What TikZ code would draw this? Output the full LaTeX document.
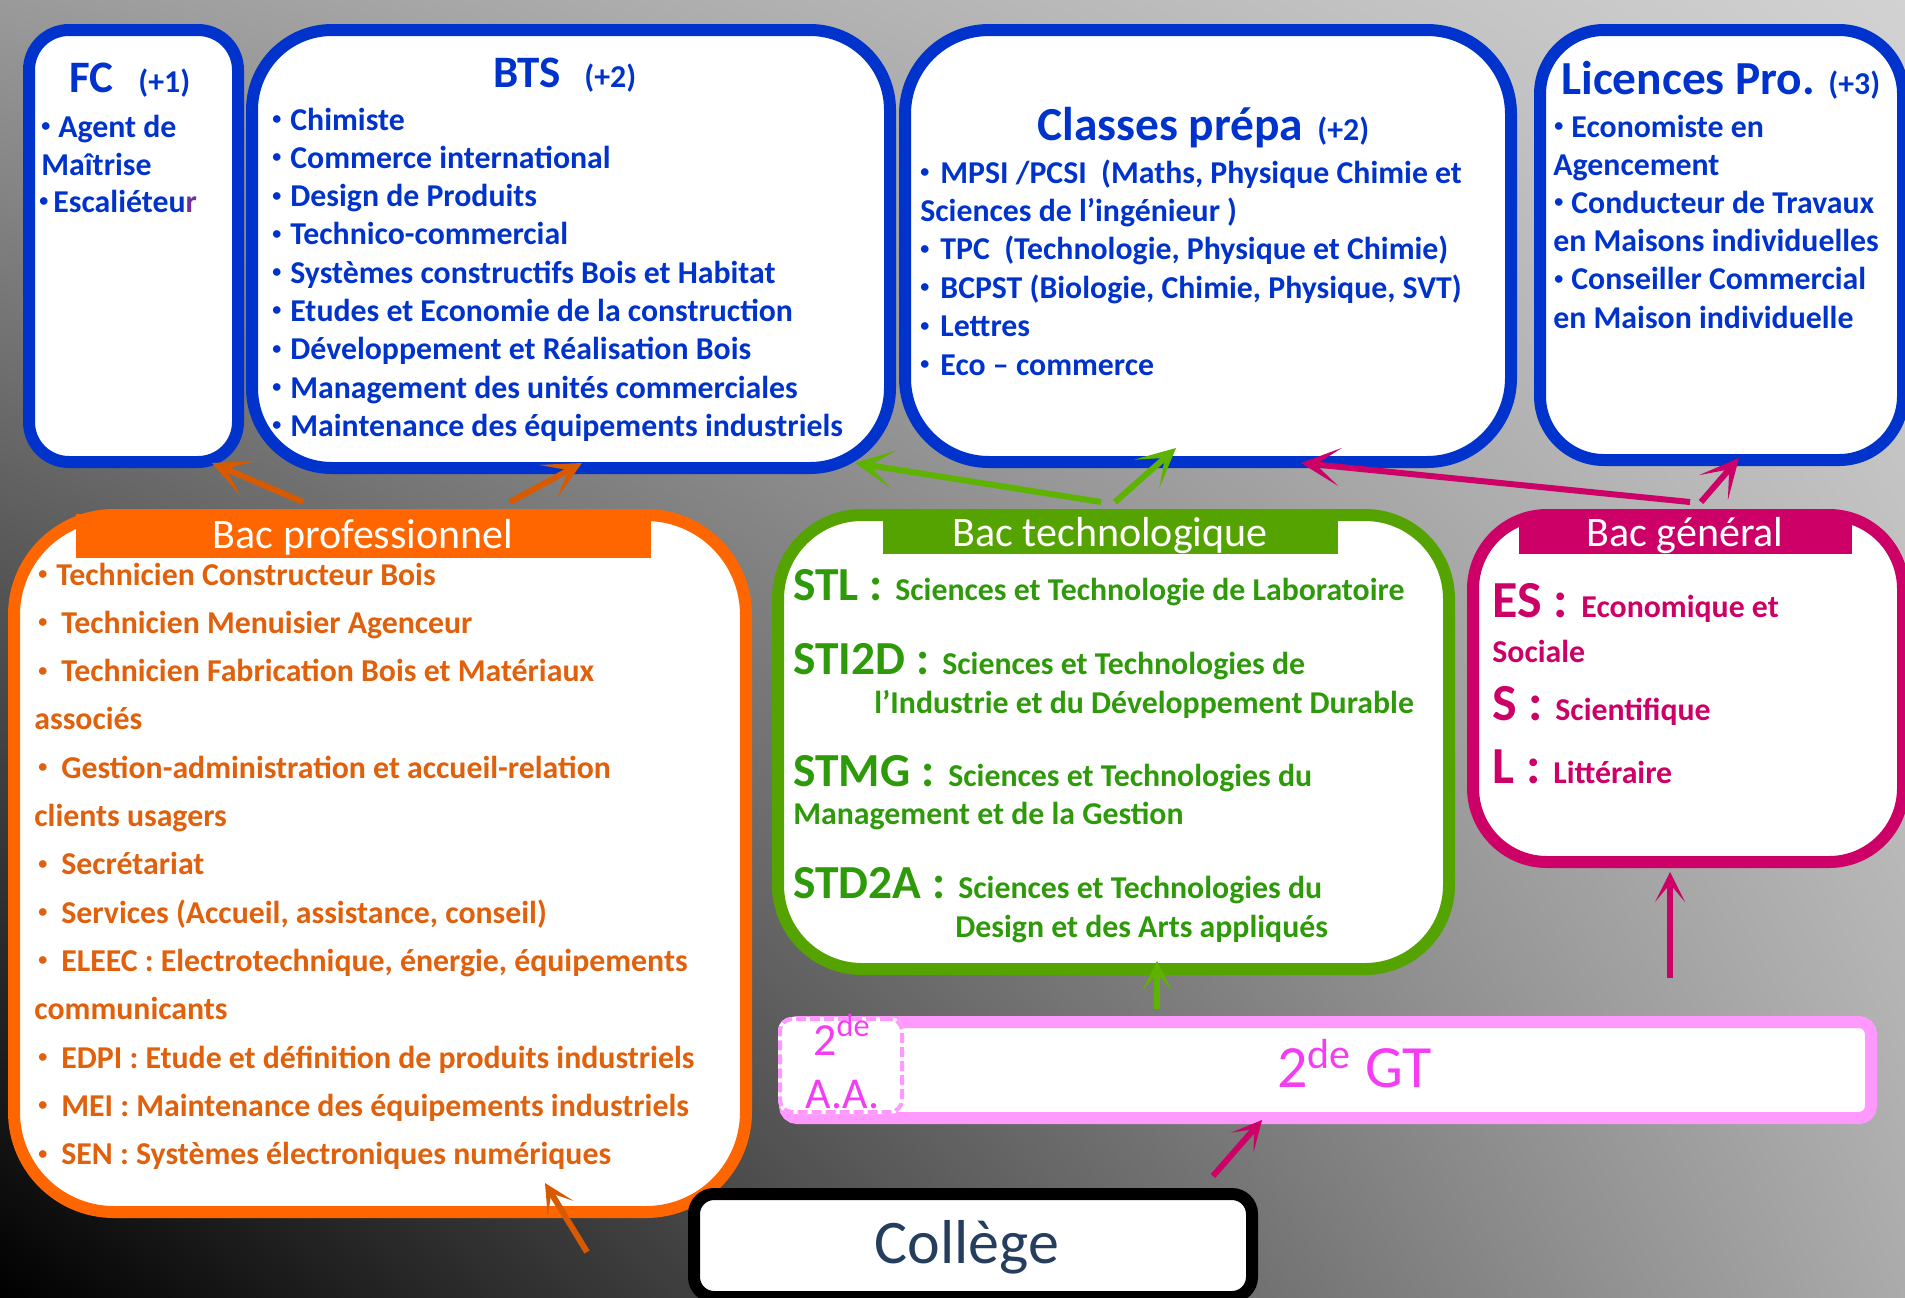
\documentclass[tikz,border=0pt]{standalone}
\usepackage{fontspec}
\setmainfont{Carlito}
\usetikzlibrary{shadings,arrows.meta}
\definecolor{cblue}{HTML}{0033CC}
\definecolor{corange}{HTML}{FF6600}
\definecolor{corangetxt}{HTML}{E0600C}
\definecolor{corangearr}{HTML}{D85A00}
\definecolor{cgreen}{HTML}{55A300}
\definecolor{cgreentxt}{HTML}{2E9A0A}
\definecolor{cgreenarr}{HTML}{5DB300}
\definecolor{cmag}{HTML}{CC0066}
\definecolor{cpink}{HTML}{FF99FF}
\definecolor{cpinktxt}{HTML}{F53CF5}
\definecolor{ccol}{HTML}{253E5E}
\definecolor{cpurple}{HTML}{7030A0}
\definecolor{bgUL}{HTML}{9A9A9A}
\definecolor{bgUR}{HTML}{D2D2D2}
\definecolor{bgLL}{HTML}{000000}
\definecolor{bgLR}{HTML}{ABABAB}
\newcommand\fItem{\fontsize{15.9pt}{19pt}\selectfont\bfseries}
\newcommand\fTitle{\fontsize{22.5pt}{27pt}\selectfont\bfseries}
\newcommand\fTitleB{\fontsize{23.7pt}{28pt}\selectfont\bfseries}
\newcommand\fHead{\fontsize{21pt}{25pt}\selectfont}
\newcommand\fGen{\fontsize{26pt}{30pt}\selectfont\bfseries}
\newcommand\bul[1][9pt]{\makebox[#1][l]{\raisebox{2.8pt}{\fontsize{9pt}{9pt}\selectfont •}}}
\begin{document}
\begin{tikzpicture}[x=0.5pt,y=-0.5pt,
  box/.style={draw, line width=6pt, fill=white, inner sep=0pt, anchor=north west},
  band/.style={inner sep=0pt, anchor=north west},
  txt/.style={anchor=base west, inner sep=0pt},
  ctxt/.style={anchor=base, inner sep=0pt},
  arr/.style={line width=3pt, -{Stealth[length=19.5pt,width=19pt,inset=12pt]}},
  sarr/.style={line width=3pt, -{Stealth[length=15pt,width=15pt,inset=9pt]}},
]
\useasboundingbox (0,0) rectangle (1905,1297);
\shade[upper left=bgUL, upper right=bgUR, lower left=bgLL, lower right=bgLR] (0,0) rectangle (1905,1297);

% ---------- boxes ----------
\node[box, draw=cblue, rounded corners=20pt, minimum width=104.5pt, minimum height=216pt] (fc) at (23,24) {};
\node[box, draw=cblue, rounded corners=40pt, minimum width=319pt, minimum height=219pt] (bts) at (246,24) {};
\node[box, draw=cblue, rounded corners=42pt, minimum width=303pt, minimum height=216pt] (prepa) at (899,24) {};
\node[box, draw=cblue, rounded corners=32pt, minimum width=181.5pt, minimum height=215pt] (lic) at (1534,24) {};
\node[box, draw=corange, rounded corners=50pt, minimum width=366pt, minimum height=348.5pt] (bpro) at (8,509) {};
\node[box, draw=cgreen, rounded corners=42pt, minimum width=335.5pt, minimum height=227pt] (btec) at (772,509) {};
\node[box, draw=cmag, rounded corners=37pt, minimum width=215pt, minimum height=173.5pt] (bgen) at (1467,509) {};
\node[box, draw=cpink, rounded corners=6pt, minimum width=543pt, minimum height=48pt] (gt) at (779,1016) {};
\node[box, draw=black, rounded corners=10pt, minimum width=279pt, minimum height=51.5pt] (col) at (688,1188) {};

% header bands
\node[band, fill=corange, minimum width=287.5pt, minimum height=22pt] (bproH) at (76,514) {};
\node[band, fill=cgreen, minimum width=227.5pt, minimum height=20pt] (btecH) at (883,514) {};
\node[band, fill=cmag, minimum width=166.5pt, minimum height=20pt] (bgenH) at (1519,514) {};

% 2de A.A. box
\node[band, fill=white, draw=white, line width=2pt, rounded corners=6pt, minimum width=61pt, minimum height=46.5pt] (aa) at (778,1017) {};
\node[band, draw=cpink, line width=2pt, dash pattern=on 5pt off 2pt, rounded corners=6pt, minimum width=61pt, minimum height=46.5pt] (aaD) at (778,1017) {};

% ---------- texts ----------
% FC
\node[txt, font=\fTitle, text=cblue] (fcT) at (69,92) {FC};
\node[txt, font=\fItem, text=cblue] (fcN) at (138,92) {(+1)};
\node[txt, font=\fItem, text=cblue] (fc1) at (41,137) {\bul[8.5pt]Agent de};
\node[txt, font=\fItem, text=cblue] (fc2) at (41,175) {Maîtrise};
\node[txt, font=\fItem, text=cblue] (fc3) at (39,212) {\bul[7pt]Escaliéteu\textcolor{cpurple}{r}};

% BTS
\node[txt, font=\fTitle, text=cblue] (btsT) at (493,87) {BTS};
\node[txt, font=\fItem, text=cblue] (btsN) at (584,87) {(+2)};
\foreach \t [count=\i] in {{Chimiste},{Commerce international},{Design de Produits},{Technico-commercial},{Systèmes constructifs Bois et Habitat},{Etudes et Economie de la construction},{Développement et Réalisation Bois},{Management des unités commerciales},{Maintenance des équipements industriels}}
  \node[txt, font=\fItem, text=cblue] (bts\i) at (272,{130+38.3*(\i-1)}) {\bul\t};

% Classes prepa
\node[txt, font=\fTitleB, text=cblue] (prT) at (1037,140) {Classes prépa};
\node[txt, font=\fItem, text=cblue] (prN) at (1317,140) {(+2)};
\foreach \xx/\t [count=\i] in {920/{\bul[10pt]MPSI /PCSI \ (Maths, Physique Chimie et},920/{Sciences de l’ingénieur )},920/{\bul[10pt]TPC \ (Technologie, Physique et Chimie)},920/{\bul[10pt]BCPST (Biologie, Chimie, Physique, SVT)},920/{\bul[10pt]Lettres},920/{\bul[10pt]Eco – commerce}}
  \node[txt, font=\fItem, text=cblue] (pr\i) at (\xx,{183+38.4*(\i-1)}) {\t};

% Licences
\node[txt, font=\fTitleB, text=cblue] (liT) at (1561,94) {Licences Pro.};
\node[txt, font=\fItem, text=cblue] (liN) at (1828,94) {(+3)};
\foreach \xx/\t [count=\i] in {1554/{\bul[8.5pt]Economiste en},1553/{Agencement},1554/{\bul[8.5pt]Conducteur de Travaux},1553/{en Maisons individuelles},1554/{\bul[8.5pt]Conseiller Commercial},1553/{en Maison individuelle}}
  \node[txt, font=\fItem, text=cblue] (li\i) at (\xx,{137+38.2*(\i-1)}) {\t};

% Bac pro
\node[ctxt, font=\fHead, text=white] (bproT) at (363,548) {Bac professionnel};
\foreach \xx/\t [count=\i] in {38/{\bul[9pt]Technicien Constructeur Bois},38/{\bul[11.5pt]Technicien Menuisier Agenceur},38/{\bul[11.5pt]Technicien Fabrication Bois et Matériaux},34/{associés},38/{\bul[11.5pt]Gestion-administration et accueil-relation},34/{clients usagers},38/{\bul[11.5pt]Secrétariat},38/{\bul[11.5pt]Services (Accueil, assistance, conseil)},38/{\bul[11.5pt]ELEEC : Electrotechnique, énergie, équipements},34/{communicants},38/{\bul[11.5pt]EDPI : Etude et définition de produits industriels},38/{\bul[11.5pt]MEI : Maintenance des équipements industriels},38/{\bul[11.5pt]SEN : Systèmes électroniques numériques}}
  \node[txt, font=\fItem, text=corangetxt] (bp\i) at (\xx,{585+48.3*(\i-1)}) {\t};

% Bac techno
\node[ctxt, font=\fHead, text=white] (btecT) at (1110,546) {Bac technologique};
\node[txt, font=\fTitleB, text=cgreentxt] (stl) at (793,600) {STL :};
\node[txt, font=\fItem, text=cgreentxt] (stlA) at (895,600) {Sciences et Technologie de Laboratoire};
\node[txt, font=\fTitleB, text=cgreentxt] (sti) at (793,674) {STI2D :};
\node[txt, font=\fItem, text=cgreentxt] (stiA) at (942,674) {Sciences et Technologies de};
\node[txt, font=\fItem, text=cgreentxt] (stiB) at (874,713) {l’Industrie et du Développement Durable};
\node[txt, font=\fTitleB, text=cgreentxt] (stm) at (793,786) {STMG :};
\node[txt, font=\fItem, text=cgreentxt] (stmA) at (948,786) {Sciences et Technologies du};
\node[txt, font=\fItem, text=cgreentxt] (stmB) at (793,824) {Management et de la Gestion};
\node[txt, font=\fTitleB, text=cgreentxt] (std) at (793,898) {STD2A :};
\node[txt, font=\fItem, text=cgreentxt] (stdA) at (958,898) {Sciences et Technologies du};
\node[txt, font=\fItem, text=cgreentxt] (stdB) at (955,937) {Design et des Arts appliqués};

% Bac general
\node[ctxt, font=\fHead, text=white] (bgenT) at (1685,546) {Bac général};
\node[txt, font=\fGen, text=cmag] (es) at (1492,617) {ES :};
\node[txt, font=\fItem, text=cmag] (esA) at (1581,617) {Economique et};
\node[txt, font=\fItem, text=cmag] (esB) at (1492,662) {Sociale};
\node[txt, font=\fGen, text=cmag] (s) at (1492,720) {S :};
\node[txt, font=\fItem, text=cmag] (sA) at (1555,720) {Scientifique};
\node[txt, font=\fGen, text=cmag] (l) at (1492,783) {L :};
\node[txt, font=\fItem, text=cmag] (lA) at (1553,783) {Littéraire};

% 2de
\node[txt, font=\fontsize{30pt}{35pt}\selectfont, text=cpinktxt] (gtT) at (1277,1087) {2\textsuperscript{de} GT};
\node[txt, font=\fontsize{23pt}{27pt}\selectfont, text=cpinktxt] (aaT1) at (813,1055) {2\textsuperscript{de}};
\node[txt, font=\fontsize{22pt}{26pt}\selectfont, text=cpinktxt] (aaT2) at (805,1108) {A.A.};

% College
\node[ctxt, font=\fontsize{31pt}{36pt}\selectfont, text=ccol] (colT) at (967,1263) {Collège};

% ---------- arrows ----------
\coordinate (a1s) at (303,502); \coordinate (a1e) at (212,463);
\coordinate (a2s) at (510,502); \coordinate (a2e) at (582,463);
\coordinate (a3s) at (587,1252); \coordinate (a3e) at (545,1183);
\coordinate (a4s) at (1101,502); \coordinate (a4e) at (855,463);
\coordinate (a5s) at (1115,502); \coordinate (a5e) at (1176,448);
\coordinate (a6s) at (1157,1009); \coordinate (a6e) at (1157,961);
\coordinate (a7s) at (1690,502); \coordinate (a7e) at (1301,463);
\coordinate (a8s) at (1701,502); \coordinate (a8e) at (1739,458);
\coordinate (a9s) at (1670,978); \coordinate (a9e) at (1670,872);
\coordinate (a10s) at (1213,1176); \coordinate (a10e) at (1262,1120);

\draw[arr, corangearr] (a1s) -- (a1e);
\draw[arr, corangearr] (a2s) -- (a2e);
\draw[sarr, corangearr] (a3s) -- (a3e);
\draw[arr, cgreenarr] (a4s) -- (a4e);
\draw[arr, cgreenarr] (a5s) -- (a5e);
\draw[sarr, cgreenarr] (a6s) -- (a6e);
\draw[arr, cmag] (a7s) -- (a7e);
\draw[arr, cmag] (a8s) -- (a8e);
\draw[sarr, cmag] (a9s) -- (a9e);
\draw[sarr, cmag] (a10s) -- (a10e);
\end{tikzpicture}
\end{document}
